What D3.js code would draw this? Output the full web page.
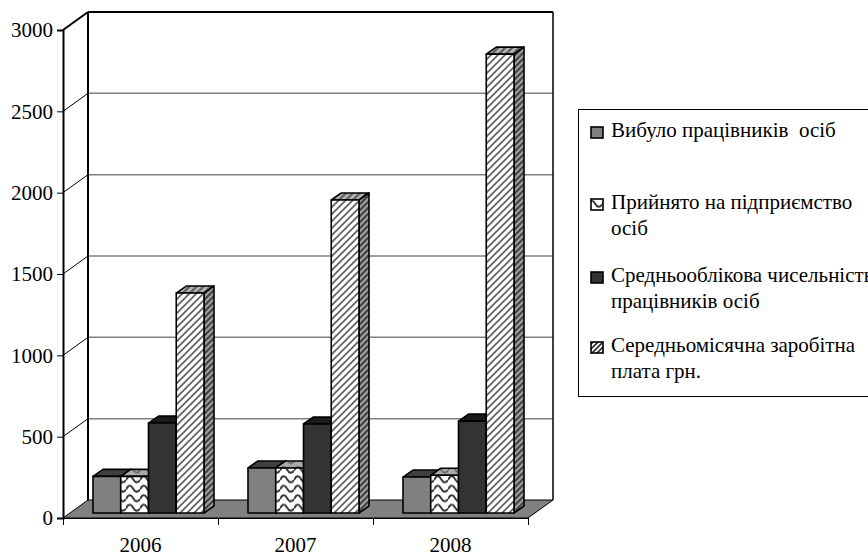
<!DOCTYPE html>
<html><head><meta charset="utf-8">
<script src="https://cdn.jsdelivr.net/npm/d3@7"></script>
<style>html,body{margin:0;padding:0;background:#fff;overflow:hidden}svg{display:block}text{font-family:"Liberation Serif",serif;fill:#000}</style>
</head><body><div id="c"></div>
<script>
const categories = ["2006","2007","2008"];
const seriesNames = ["s0","s1","s2","s3"];
const vybulo = [225,277,221];
const pryiniato = [225,277,232];
const chyselnist = [553,547,565];
const zarplata = [1352,1924,2821];
const yTicks = [0,500,1000,1500,2000,2500,3000];
const legendLines = [
  ["Вибуло працівників  осіб"],
  ["Прийнято на підприємство","осіб"],
  ["Средньооблікова чисельність","працівників осіб"],
  ["Середньомісячна заробітна","плата грн."]
];
const seriesValues = [vybulo,pryiniato,chyselnist,zarplata];

const W=868,H=556;
const dx=25,dy=-18, bdx=10, bdy=-7, bshift=-5;
const svg=d3.select("#c").append("svg").attr("width",W).attr("height",H);
const x=d3.scalePoint().domain(d3.range(categories.length+1)).range([63,528]);
const y=d3.scaleLinear().domain([0,3000]).range([518,30]);
const step=x.step();
const inner=d3.scaleBand().domain(seriesNames).range([30,step-14]).padding(0);

const defs=svg.append("defs");
function stripes(id,base,stroke,sw,size){
  const p=defs.append("pattern").attr("id",id).attr("patternUnits","userSpaceOnUse").attr("width",size).attr("height",size);
  p.append("rect").attr("width",size).attr("height",size).attr("fill",base);
  p.append("path").attr("d",`M${-size/2},${size/2}L${size/2},${-size/2}M0,${size}L${size},0M${size/2},${size*1.5}L${size*1.5},${size/2}`).attr("stroke",stroke).attr("stroke-width",sw);
}
stripes("dg","#fff","#666",1.9,7);
stripes("dgTop","#b5b5b5","#666",2.4,7);
stripes("dgSide","#a0a0a0","#444",2.2,6);
stripes("dgLeg","#fff","#333",1.8,5);
function waves(id,base,stroke,sw){
  const p=defs.append("pattern").attr("id",id).attr("patternUnits","userSpaceOnUse").attr("width",14).attr("height",9.5);
  p.append("rect").attr("width",14).attr("height",9.5).attr("fill",base);
  p.append("path").attr("d","M0,5 Q3.5,-2 7,4 T14,5").attr("fill","none").attr("stroke",stroke).attr("stroke-width",sw);
}
waves("wv","#fff","#333",2);
waves("wvTop","#aaa","#666",1.6);
const fronts=["#808080","url(#wv)","#333333","url(#dg)"];
const tops=["#404040","url(#wvTop)","#1a1a1a","url(#dgTop)"];
const sides=["#404040","url(#wvTop)","#1a1a1a","url(#dgSide)"];

// back wall gridlines
const grid=svg.append("g");
yTicks.forEach(t=>{
  if(t>0) grid.append("line").attr("x1",63+dx).attr("x2",528+dx).attr("y1",y(t)+dy).attr("y2",y(t)+dy).attr("stroke",t===3000?"#000":"#808080").attr("stroke-width",t===3000?2:1.5);
  if(t>0) grid.append("line").attr("x1",63).attr("x2",63+dx).attr("y1",y(t)).attr("y2",y(t)+dy).attr("stroke","#000").attr("stroke-width",t===3000?2:1);
});
// floor
svg.append("path").attr("d",`M${x(0)},${y(0)}L${x(0)+dx},${y(0)+dy}L${x(3)+dx},${y(0)+dy}L${x(3)},${y(0)}Z`).attr("fill","#808080").attr("stroke","#000").attr("stroke-width",1);
// walls
svg.append("line").attr("x1",63+dx).attr("x2",63+dx).attr("y1",y(3000)+dy).attr("y2",y(0)+dy).attr("stroke","#000").attr("stroke-width",2);
svg.append("line").attr("x1",528+dx).attr("x2",528+dx).attr("y1",y(3000)+dy).attr("y2",y(0)+dy).attr("stroke","#000").attr("stroke-width",1.5);

// bars
const bars=svg.append("g").attr("stroke","#000").attr("stroke-width",1.6).attr("stroke-linejoin","round");
categories.forEach((c,i)=>{
  seriesNames.forEach((s,j)=>{
    const v=seriesValues[j][i];
    const x0=x(i)+inner(s), w=inner.bandwidth(), yb=y(0)+bshift, yt=y(v)+bshift;
    bars.append("path").attr("d",`M${x0},${yt}L${x0+bdx},${yt+bdy}L${x0+w+bdx},${yt+bdy}L${x0+w},${yt}Z`).attr("fill",tops[j]);
    bars.append("path").attr("d",`M${x0+w},${yt}L${x0+w+bdx},${yt+bdy}L${x0+w+bdx},${yb+bdy}L${x0+w},${yb}Z`).attr("fill",sides[j]);
    bars.append("rect").attr("x",x0).attr("y",yt).attr("width",w).attr("height",yb-yt).attr("fill",fronts[j]);
  });
});

// axes
const yAxis=svg.append("g").attr("transform","translate(63,0)").call(d3.axisLeft(y).tickValues(yTicks).tickSize(6).tickPadding(4).tickFormat(d3.format("d")));
yAxis.select(".domain").attr("stroke","#000").attr("stroke-width",2);
yAxis.selectAll("text").style("font-size","21px");
const xAxis=svg.append("g").attr("transform","translate(0,518)").call(d3.axisBottom(x).tickValues(d3.range(4)).tickSize(7).tickFormat(""));
xAxis.select(".domain").attr("stroke","#000").attr("stroke-width",1);
xAxis.selectAll("text").remove();
svg.append("g").selectAll("text").data(categories).join("text")
  .attr("x",(d,i)=>x(i)+step/2).attr("y",552).attr("text-anchor","middle").style("font-size","21px").text(d=>d);

// legend
const lg=svg.append("g");
lg.append("rect").attr("x",578.5).attr("y",109.5).attr("width",320).attr("height",287).attr("fill","#fff").attr("stroke","#000").attr("stroke-width",1);
const rowBase=[137,209,282,352];
const swFill=["#808080","url(#wv)","#333333","url(#dgLeg)"];
legendLines.forEach((ls,i)=>{
  lg.append("rect").attr("x",591).attr("y",rowBase[i]-10).attr("width",12).attr("height",11).attr("fill",swFill[i]).attr("stroke","#000").attr("stroke-width",1.6);
  ls.forEach((t,k)=>lg.append("text").attr("x",611).attr("y",rowBase[i]+k*25.5).style("font-size","21px").style("white-space","pre").text(t));
});
</script></body></html>
